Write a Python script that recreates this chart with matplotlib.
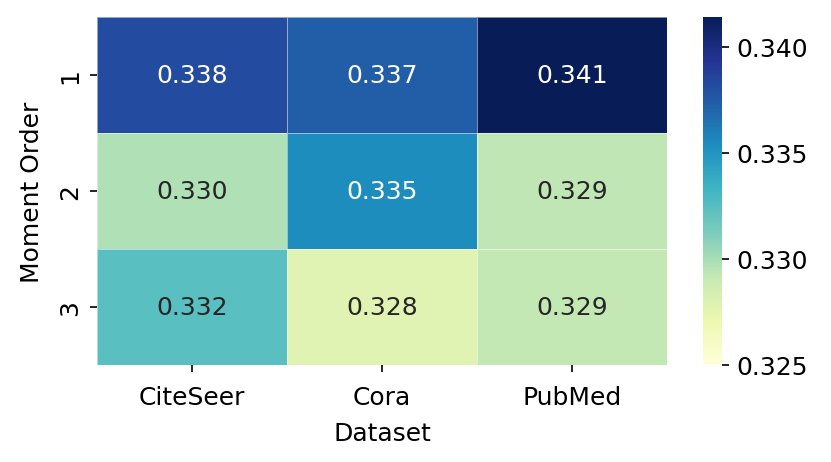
import matplotlib
matplotlib.use("Agg")
from matplotlib import pyplot as plt
import seaborn as sns
import numpy as np

datasets = ["CiteSeer", "Cora", "PubMed"]
orders = ["1", "2", "3"]
row1 = [0.3382, 0.3373, 0.3414]
row2 = [0.3298, 0.3354, 0.3293]
row3 = [0.3324, 0.3278, 0.3292]
values = np.array([row1, row2, row3])

fig = plt.figure(figsize=(831 / 150, 463 / 150), dpi=150)
ax = fig.add_axes([97 / 831, 97 / 463, 570 / 831, 348 / 463])
cax = fig.add_axes([703 / 831, 97 / 463, 19 / 831, 348 / 463])

sns.heatmap(values, ax=ax, cbar_ax=cax, cmap="YlGnBu", vmin=0.325, vmax=0.3414,
            annot=True, fmt=".3f", annot_kws={"size": 12},
            linewidths=0.3, linecolor=(1, 1, 1, 0.5),
            xticklabels=datasets, yticklabels=orders)
ax.set_xlabel("Dataset", fontsize=12, labelpad=6)
ax.set_ylabel("Moment Order", fontsize=12, labelpad=7)
ax.tick_params(labelsize=12)
ax.tick_params(axis="x", pad=6)
cax.tick_params(labelsize=12)
cax.set_yticks([0.325, 0.330, 0.335, 0.340])
cax.set_yticklabels(["0.325", "0.330", "0.335", "0.340"])

fig.savefig("out.png", dpi=150)
